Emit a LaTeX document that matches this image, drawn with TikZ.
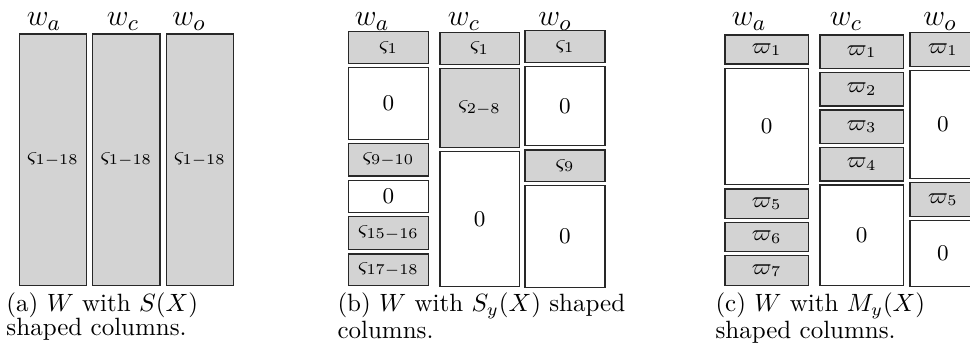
\documentclass[tikz,border=0pt]{standalone}
\definecolor{cellgray}{RGB}{211,211,211}
\definecolor{edgegray}{RGB}{40,40,40}
\newcommand\mybox[7]{\node[#1, minimum width={(#5-#3)*0.4pt}, minimum height={(#6-#4)*0.4pt}] (#2) at ({(#3+#5)/2},{(#4+#6)/2}) {#7};}
\begin{document}
\begin{tikzpicture}[x=0.4pt,y=-0.4pt,
  base/.style={draw=edgegray, line width=0.45pt, inner sep=0pt, outer sep=0pt, rectangle, font=\fontsize{8.7}{10}\selectfont},
  full/.style={base, fill=cellgray},
  zero/.style={base, fill=white},
  lab/.style={font=\fontsize{13}{15}\selectfont, inner sep=0pt, anchor=base},
  captext/.style={anchor=north west, align=left, inner sep=0pt, font=\fontsize{10}{9.8}\selectfont}]
\useasboundingbox (0,0) rectangle (970,344);
% ---------- panel (a)
\node[lab] (aLa) at (44,26) {$w_a$};
\node[lab] (aLc) at (123,26) {$w_c$};
\node[lab] (aLo) at (189,26) {$w_o$};
\mybox{full}{a1}{19.3}{34}{86.7}{285.7}{$\varsigma_{1-18}$}
\mybox{full}{a2}{92.7}{34}{160}{285.7}{$\varsigma_{1-18}$}
\mybox{full}{a3}{166.7}{34}{233.3}{285.7}{$\varsigma_{1-18}$}
\node[captext] (capa) at (6,292) {(a) $W$ with $S(X)$\\shaped columns.};
% ---------- panel (b)
\node[lab] (bLa) at (372,26) {$w_a$};
\node[lab] (bLc) at (464,26) {$w_c$};
\node[lab] (bLo) at (555,26) {$w_o$};
\mybox{full}{b11}{348.3}{31.7}{428.7}{63.3}{$\varsigma_{1}$}
\mybox{zero}{b12}{348.3}{67.7}{428.7}{139.3}{$0$}
\mybox{full}{b13}{348.3}{143.3}{428.7}{176}{$\varsigma_{9-10}$}
\mybox{zero}{b14}{348.3}{180.3}{428.7}{212.3}{$0$}
\mybox{full}{b15}{348.3}{216.7}{428.7}{249.3}{$\varsigma_{15-16}$}
\mybox{full}{b16}{348.3}{254}{428.7}{285.7}{$\varsigma_{17-18}$}
\mybox{full}{b21}{440}{32.3}{519.3}{64.3}{$\varsigma_{1}$}
\mybox{full}{b22}{440}{68.3}{519.3}{147.7}{$\varsigma_{2-8}$}
\mybox{zero}{b23}{440}{151.7}{519.3}{286.7}{$0$}
\mybox{full}{b31}{525}{30.7}{605}{62.3}{$\varsigma_{1}$}
\mybox{zero}{b32}{525}{66.7}{605}{145.7}{$0$}
\mybox{full}{b33}{525}{150}{605}{181.7}{$\varsigma_{9}$}
\mybox{zero}{b34}{525}{185.7}{605}{287.3}{$0$}
\node[captext] (capb) at (337,292) {(b) $W$ with $S_y(X)$ shaped\\columns.};
% ---------- panel (c)
\node[lab] (cLa) at (749,26) {$w_a$};
\node[lab] (cLc) at (846,26) {$w_c$};
\node[lab] (cLo) at (940,26) {$w_o$};
\mybox{full}{c11}{725}{35}{808.3}{64}{$\varpi_{1}$}
\mybox{zero}{c12}{725}{68.3}{808.3}{184.3}{$0$}
\mybox{full}{c13}{725}{189}{808.3}{218.3}{$\varpi_{5}$}
\mybox{full}{c14}{725}{222.3}{808.3}{251.7}{$\varpi_{6}$}
\mybox{full}{c15}{725}{255.7}{808.3}{285.7}{$\varpi_{7}$}
\mybox{full}{c21}{820}{35}{903.3}{68.3}{$\varpi_{1}$}
\mybox{full}{c22}{820}{72.3}{903.3}{106}{$\varpi_{2}$}
\mybox{full}{c23}{820}{110}{903.3}{143.3}{$\varpi_{3}$}
\mybox{full}{c24}{820}{147.7}{903.3}{181}{$\varpi_{4}$}
\mybox{zero}{c25}{820}{185}{903.3}{285.7}{$0$}
\mybox{full}{c31}{910}{32.7}{976}{66.7}{$\varpi_{1}$}
\mybox{zero}{c32}{910}{70.7}{976}{178.3}{$0$}
\mybox{full}{c33}{910}{182.7}{976}{216.7}{$\varpi_{5}$}
\mybox{zero}{c34}{910}{220.7}{976}{286.7}{$0$}
\node[captext] (capc) at (715,292) {(c) $W$ with $M_y(X)$\\shaped columns.};
\end{tikzpicture}
\end{document}
